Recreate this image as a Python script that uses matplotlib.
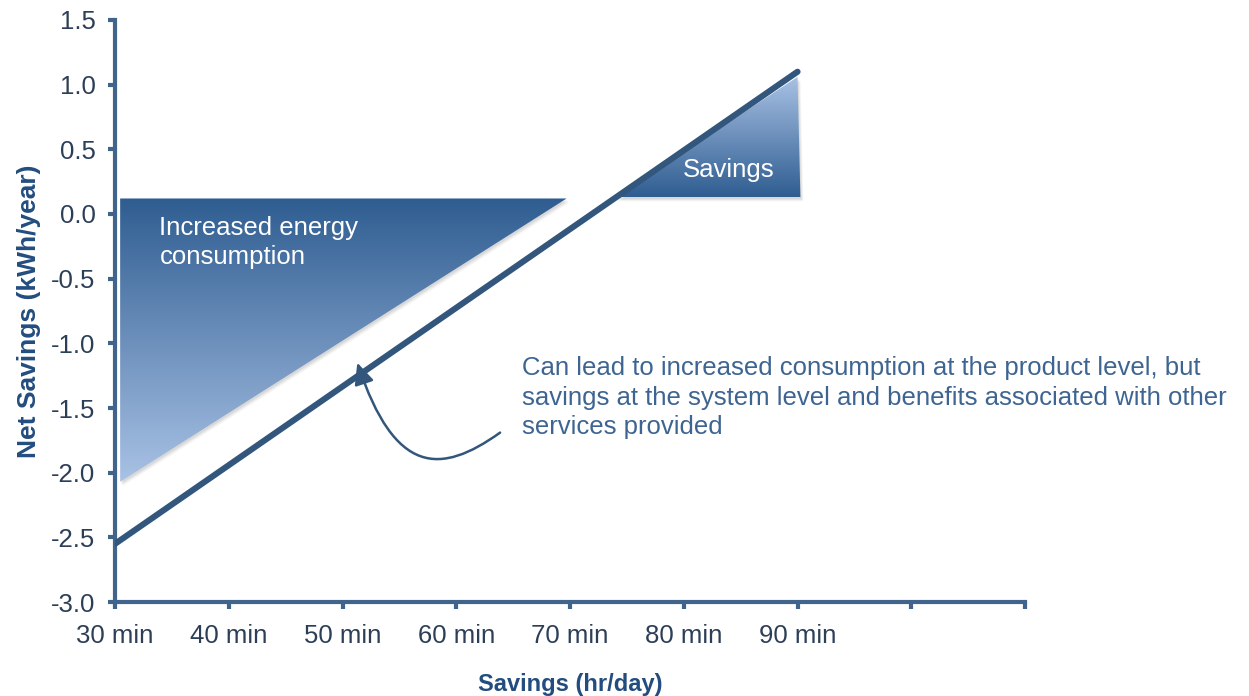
import matplotlib.pyplot as plt
import numpy as np
from matplotlib.patches import Polygon, FancyArrowPatch
from matplotlib.path import Path
from matplotlib.colors import LinearSegmentedColormap
import matplotlib.transforms as mtransforms

plt.rcParams['font.family'] = ['Liberation Sans', 'DejaVu Sans']

# Net savings line (minutes of savings per day vs kWh/year)
line_minutes = [30, 90]
line_net_savings = [-2.55, 1.10]

x_ticks = [30, 40, 50, 60, 70, 80, 90, 100, 110]
x_tick_labels = ['30 min', '40 min', '50 min', '60 min', '70 min', '80 min', '90 min', '', '']
y_ticks = [-3.0, -2.5, -2.0, -1.5, -1.0, -0.5, 0.0, 0.5, 1.0, 1.5]
y_tick_labels = ['%.1f' % v for v in y_ticks]

# Callout shapes
consumption_tri = [(30.45, 0.12), (69.7, 0.12), (30.45, -2.07)]
savings_tri = [(74.0, 0.13), (90.0, 1.06), (90.25, 0.13)]

axis_col = '#40648c'
line_col = '#33567c'
text_col = '#3e6592'
label_col = '#224d7e'
tick_col = '#2c3f57'
dark_fill = '#2f5d91'
light_fill = '#a9c2e5'

fig = plt.figure(figsize=(12.49, 6.96), dpi=100)
ax = fig.add_axes([0.0921, 0.135, 0.7286, 0.8363])
ax.set_xlim(30, 110)
ax.set_ylim(-3.0, 1.5)


def gradient_triangle(verts, top_col, bottom_col):
    """Triangle filled with a vertical gradient plus a soft drop shadow."""
    for k, a in enumerate([0.10, 0.08, 0.06]):
        sh = Polygon(verts, closed=True, facecolor='#555555', edgecolor='none', alpha=a,
                     transform=mtransforms.offset_copy(ax.transData, fig=fig,
                                                       x=1 + k, y=-2 - k, units='dots'),
                     zorder=1)
        ax.add_patch(sh)
    poly = Polygon(verts, closed=True, facecolor='none', edgecolor='none', zorder=2)
    ax.add_patch(poly)
    xs = [v[0] for v in verts]
    ys = [v[1] for v in verts]
    cmap = LinearSegmentedColormap.from_list('g', [bottom_col, top_col])
    grad = np.linspace(0, 1, 256).reshape(-1, 1)
    im = ax.imshow(grad, cmap=cmap, origin='lower', aspect='auto',
                   extent=[min(xs), max(xs), min(ys), max(ys)], zorder=2,
                   interpolation='bilinear')
    im.set_clip_path(poly)


gradient_triangle(consumption_tri, dark_fill, light_fill)
gradient_triangle(savings_tri, light_fill, dark_fill)

ax.plot(line_minutes, line_net_savings, color=line_col, lw=4.4,
        solid_capstyle='round', zorder=4)

ax.text(33.9, -0.22, 'Increased energy\nconsumption', color='white', fontsize=18.5,
        va='center', ha='left', linespacing=1.3, zorder=5)
ax.text(83.9, 0.34, 'Savings', color='white', fontsize=18.5,
        va='center', ha='center', zorder=5)

ax.text(65.8, -1.42, 'Can lead to increased consumption at the product level, but\n'
        'savings at the system level and benefits associated with other\n'
        'services provided', color=text_col, fontsize=18.5, va='center', ha='left',
        linespacing=1.3, zorder=5)

# Curved pointer from the note back to the line
curve = Path([(63.85, -1.69), (58.6, -2.02), (54.6, -2.02), (51.3, -1.15)],
             [Path.MOVETO, Path.CURVE4, Path.CURVE4, Path.CURVE4])
ax.add_patch(FancyArrowPatch(path=curve, arrowstyle='-|>,head_length=13,head_width=6',
                             color=line_col, lw=1.8, mutation_scale=1, zorder=5))

ax.set_xticks(x_ticks)
ax.set_xticklabels(x_tick_labels)
ax.set_yticks(y_ticks)
ax.set_yticklabels(y_tick_labels)

for side in ['top', 'right']:
    ax.spines[side].set_visible(False)
for side in ['left', 'bottom']:
    ax.spines[side].set_color(axis_col)
    ax.spines[side].set_linewidth(3)
    ax.spines[side].set_capstyle('projecting')

ax.tick_params(axis='both', direction='out', length=5, width=3, color=axis_col,
               labelcolor=tick_col, labelsize=18.5)
ax.tick_params(axis='x', pad=11)
ax.tick_params(axis='y', pad=9)

ax.set_xlabel('Savings (hr/day)', fontsize=17, fontweight='bold', color=label_col,
              labelpad=18)
ax.set_ylabel('Net Savings (kWh/year)', fontsize=19, fontweight='bold', color=label_col,
              labelpad=7)

fig.savefig('out.png', dpi=100)
